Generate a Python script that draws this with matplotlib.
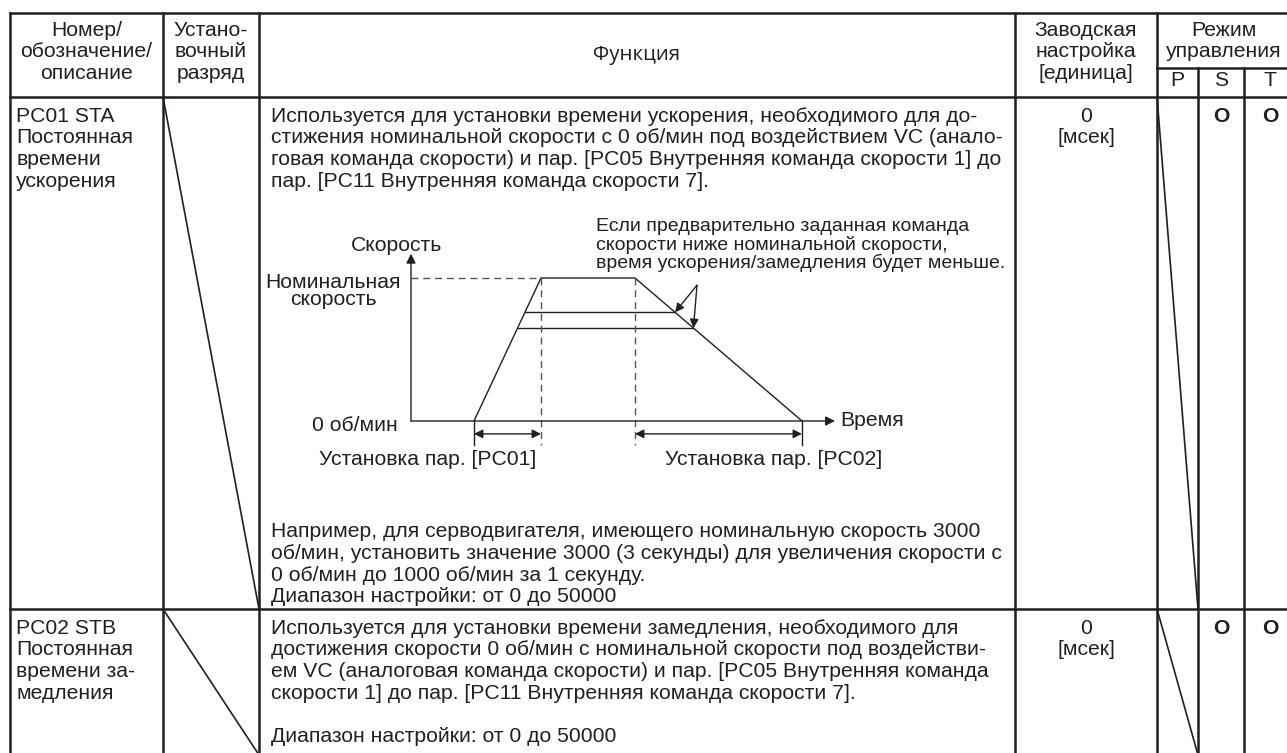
import matplotlib.pyplot as plt

plt.rcParams['font.family'] = ['Liberation Sans', 'DejaVu Sans']

INK = '#231f20'
FS = 15.2
W, H = 1287, 753

# table layout (pixels)
col_x = [10, 163, 259, 1015, 1157, 1198, 1244]
row_y = [13, 97, 609, 755]
sub_y = 68
line_h = 21.7

# header
head_no = ['Номер/', 'обозначение/', 'описание']
head_digit = ['Устано-', 'вочный', 'разряд']
head_func = 'Функция'
head_default = ['Заводская', 'настройка', '[единица]']
head_mode = ['Режим', 'управления']
modes = ['P', 'S', 'T']

# body rows
params = [['PC01 STA', 'Постоянная', 'времени', 'ускорения'],
          ['PC02 STB', 'Постоянная', 'времени за-', 'медления']]
defaults = [['0', '[мсек]'], ['0', '[мсек]']]
mode_flags = [['', 'O', 'O'], ['', 'O', 'O']]
func_top = [
    ['Используется для установки времени ускорения, необходимого для до-',
     'стижения номинальной скорости с 0 об/мин под воздействием VC (анало-',
     'говая команда скорости) и пар. [PC05 Внутренняя команда скорости 1] до',
     'пар. [PC11 Внутренняя команда скорости 7].'],
    ['Используется для установки времени замедления, необходимого для',
     'достижения скорости 0 об/мин с номинальной скорости под воздействи-',
     'ем VC (аналоговая команда скорости) и пар. [PC05 Внутренняя команда',
     'скорости 1] до пар. [PC11 Внутренняя команда скорости 7].',
     '',
     'Диапазон настройки: от 0 до 50000'],
]
func_bottom = ['Например, для серводвигателя, имеющего номинальную скорость 3000',
               'об/мин, установить значение 3000 (3 секунды) для увеличения скорости с',
               '0 об/мин до 1000 об/мин за 1 секунду.',
               'Диапазон настройки: от 0 до 50000']

# speed diagram (time units, speed as fraction of nominal)
t_profile = [0.63, 1.30, 2.24, 3.91]
v_nominal = 1.0
v_lower = [0.76, 0.65]
t_axis_end = 4.24
v_axis_end = 1.17
note = ['Если предварительно заданная команда',
        'скорости ниже номинальной скорости,',
        'время ускорения/замедления будет меньше.']

fig = plt.figure(figsize=(W / 100, H / 100), dpi=100)
ax = fig.add_axes([0, 0, 1, 1])
ax.set_xlim(0, W)
ax.set_ylim(H, 0)
ax.axis('off')

lw = 1.8
# horizontal rules
for y in row_y:
    ax.plot([col_x[0], W], [y, y], color=INK, lw=lw)
ax.plot([col_x[4], W], [sub_y, sub_y], color=INK, lw=lw)
# vertical rules
for x in col_x[:5]:
    ax.plot([x, x], [row_y[0], row_y[-1]], color=INK, lw=lw)
for x in col_x[5:]:
    ax.plot([x, x], [sub_y, row_y[-1]], color=INK, lw=lw)
# diagonal "not used" marks
for r in range(2):
    y0, y1 = row_y[r + 1], row_y[r + 2]
    ax.plot([col_x[1], col_x[2]], [y0, y1], color=INK, lw=1.2)
    ax.plot([col_x[4], col_x[5]], [y0, y1], color=INK, lw=1.2)


def lines(x, y0, items, ha='left', **kw):
    for i, s in enumerate(items):
        ax.text(x, y0 + i * line_h, s, ha=ha, va='center', fontsize=FS,
                color=INK, **kw)


# header text
hy = 30
lines((col_x[0] + col_x[1]) / 2, hy, head_no, ha='center')
lines((col_x[1] + col_x[2]) / 2, hy, head_digit, ha='center')
ax.text((col_x[2] + col_x[3]) / 2, 55, head_func, ha='center', va='center',
        fontsize=FS - 0.5, color=INK, family=['Open Sans', 'DejaVu Sans'])
lines((col_x[3] + col_x[4]) / 2, hy, head_default, ha='center')
lines((col_x[4] + W) / 2 + 2, hy, head_mode, ha='center')
mode_cx = [(col_x[4] + col_x[5]) / 2, (col_x[5] + col_x[6]) / 2, col_x[6] + 26]
for cx, m in zip(mode_cx, modes):
    ax.text(cx, 80, m, ha='center', va='center', fontsize=FS, color=INK)

# body text
for r in range(2):
    top = row_y[r + 1] + 19
    lines(col_x[0] + 6, top, params[r])
    lines(col_x[2] + 12, top, func_top[r])
    lines((col_x[3] + col_x[4]) / 2, top, defaults[r], ha='center')
    for cx, f in zip(mode_cx, mode_flags[r]):
        ax.text(cx, top, f, ha='center', va='center', fontsize=FS,
                color=INK, fontweight='bold')
lines(col_x[2] + 12, row_y[2] - 12 - 3 * line_h, func_bottom)

# diagram axes, placed in pixel box
px0, px1, py0, py1 = 260, 1010, 210, 475
dx = fig.add_axes([px0 / W, 1 - py1 / H, (px1 - px0) / W, (py1 - py0) / H])
dx.set_xlim((px0 - 411) / 100, (px1 - 411) / 100)
dx.set_ylim((421 - py1) / 143, (421 - py0) / 143)
dx.axis('off')

thin = 1.0
arrow = dict(arrowstyle='-|>', color=INK, lw=thin, mutation_scale=14,
             shrinkA=0, shrinkB=0)
dx.annotate('', xy=(0, v_axis_end), xytext=(0, 0), arrowprops=arrow)
dx.annotate('', xy=(t_axis_end, 0), xytext=(0, 0), arrowprops=arrow)

t0, t1, t2, t3 = t_profile
dx.plot([t0, t1, t2, t3], [0, v_nominal, v_nominal, 0], color=INK, lw=thin)
for v in v_lower:
    ta = t0 + v * (t1 - t0)
    tb = t2 + (1 - v) * (t3 - t2)
    dx.plot([ta, tb], [v, v], color=INK, lw=thin)

dash = dict(color='#555555', lw=1.0, ls=(0, (5, 3.5)))
dx.plot([0, t1], [v_nominal, v_nominal], **dash)
dim_v, tick_v = -0.09, -0.17
dx.plot([t1, t1], [v_nominal, tick_v], **dash)
dx.plot([t2, t2], [v_nominal, tick_v], **dash)
dx.plot([t0, t0], [0, tick_v], color=INK, lw=thin)
dx.plot([t3, t3], [0, tick_v], color=INK, lw=thin)
dim = dict(arrowstyle='<|-|>', color=INK, lw=thin, mutation_scale=13,
           shrinkA=0, shrinkB=0)
dx.annotate('', xy=(t0, dim_v), xytext=(t1, dim_v), arrowprops=dim)
dx.annotate('', xy=(t2, dim_v), xytext=(t3, dim_v), arrowprops=dim)

# callout arrows to the shorter decel points
apex = (2.86, 0.95)
for v in v_lower:
    tb = t2 + (1 - v) * (t3 - t2)
    dx.annotate('', xy=(tb, v), xytext=apex,
                arrowprops=dict(arrowstyle='-|>', color=INK, lw=thin,
                                mutation_scale=13, shrinkA=0, shrinkB=0))

tk = dict(fontsize=FS, color=INK, va='center')
dx.text(-0.14, 1.23, 'Скорость', ha='center', **tk)
dx.text(-0.78, 0.97, 'Номинальная', ha='center', **tk)
dx.text(-0.78, 0.85, 'скорость', ha='center', **tk)
dx.text(-0.13, -0.03, '0 об/мин', ha='right', **tk)
dx.text(t_axis_end + 0.05, 0, 'Время', ha='left', **tk)
dx.text(0.17, -0.27, 'Установка пар. [PC01]', ha='center', **tk)
dx.text(3.63, -0.27, 'Установка пар. [PC02]', ha='center', **tk)
for i, s in enumerate(note):
    dx.text(1.85, 1.36 - i * 0.127, s, ha='left', fontsize=FS - 1.2,
            color=INK, va='center')

fig.savefig('out.png', dpi=100)
